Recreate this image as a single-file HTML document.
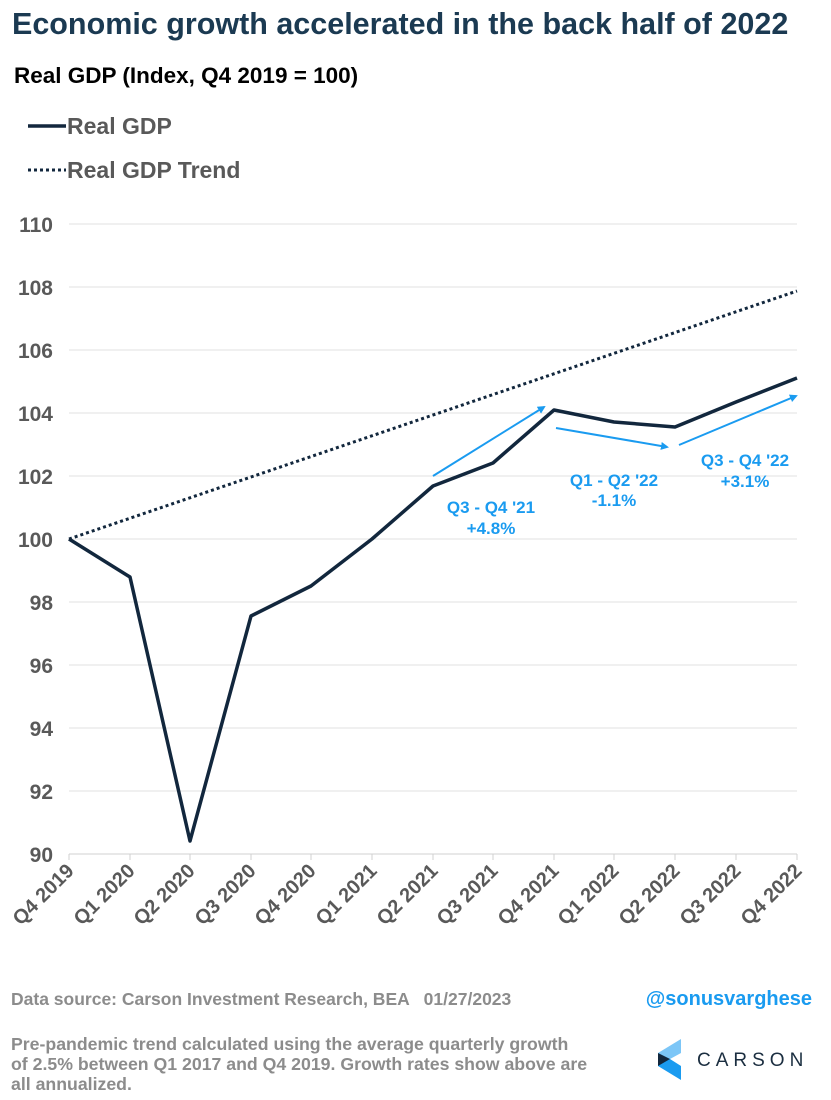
<!DOCTYPE html>
<html><head><meta charset="utf-8"><style>body{margin:0;background:#fff}svg{display:block}</style></head>
<body>
<svg width="831" height="1100" xmlns="http://www.w3.org/2000/svg" font-family="Liberation Sans, Arial, sans-serif">
<rect width="831" height="1100" fill="#fff"/>
<text x="12" y="34" font-size="30.5" font-weight="bold" fill="#1b3a52">Economic growth accelerated in the back half of 2022</text>
<text x="14" y="83" font-size="22.5" font-weight="bold" fill="#000">Real GDP (Index, Q4 2019 = 100)</text>
<line x1="28" y1="126" x2="66" y2="126" stroke="#12273d" stroke-width="3.5"/>
<text x="67" y="134" font-size="23" font-weight="bold" fill="#595959">Real GDP</text>
<line x1="28" y1="170" x2="66" y2="170" stroke="#12273d" stroke-width="3" stroke-dasharray="3,3"/>
<text x="67" y="178" font-size="23" font-weight="bold" fill="#595959">Real GDP Trend</text>
<g stroke="#e0e0e0" stroke-width="1">
<line x1="69" x2="797" y1="224" y2="224"/><line x1="69" x2="797" y1="287" y2="287"/><line x1="69" x2="797" y1="350" y2="350"/><line x1="69" x2="797" y1="413" y2="413"/><line x1="69" x2="797" y1="476" y2="476"/><line x1="69" x2="797" y1="539" y2="539"/><line x1="69" x2="797" y1="602" y2="602"/><line x1="69" x2="797" y1="665" y2="665"/><line x1="69" x2="797" y1="728" y2="728"/><line x1="69" x2="797" y1="791" y2="791"/>
</g>
<line x1="69" x2="797" y1="854" y2="854" stroke="#d0d0d0"/>
<g stroke="#d0d0d0"><path d="M69 854v6M130 854v6M190 854v6M251 854v6M311 854v6M372 854v6M433 854v6M493 854v6M554 854v6M614 854v6M675 854v6M736 854v6M797 854v6"/></g>
<g font-size="21" font-weight="bold" fill="#595959" text-anchor="end">
<text x="53" y="232">110</text><text x="53" y="295">108</text><text x="53" y="358">106</text><text x="53" y="421">104</text><text x="53" y="484">102</text><text x="53" y="547">100</text><text x="53" y="610">98</text><text x="53" y="673">96</text><text x="53" y="736">94</text><text x="53" y="799">92</text><text x="53" y="862">90</text>
</g>
<g font-size="20" font-weight="bold" fill="#595959" text-anchor="end">
<text transform="translate(75,872) rotate(-45)">Q4 2019</text>
<text transform="translate(136,872) rotate(-45)">Q1 2020</text>
<text transform="translate(196,872) rotate(-45)">Q2 2020</text>
<text transform="translate(257,872) rotate(-45)">Q3 2020</text>
<text transform="translate(317,872) rotate(-45)">Q4 2020</text>
<text transform="translate(378,872) rotate(-45)">Q1 2021</text>
<text transform="translate(439,872) rotate(-45)">Q2 2021</text>
<text transform="translate(499,872) rotate(-45)">Q3 2021</text>
<text transform="translate(560,872) rotate(-45)">Q4 2021</text>
<text transform="translate(620,872) rotate(-45)">Q1 2022</text>
<text transform="translate(681,872) rotate(-45)">Q2 2022</text>
<text transform="translate(742,872) rotate(-45)">Q3 2022</text>
<text transform="translate(803,872) rotate(-45)">Q4 2022</text>
</g>
<line x1="69" y1="539" x2="797" y2="291" stroke="#12273d" stroke-width="3" stroke-dasharray="3,3"/>
<polyline fill="none" stroke="#12273d" stroke-width="3.5" stroke-linejoin="round" points="69,539 130,577 190,841 251,616 311,586 372,539 433,486 493,463 554,410 614,422 675,427 736,402 797,378"/>
<defs><marker id="a" markerWidth="8" markerHeight="8" refX="6" refY="4" orient="auto" markerUnits="userSpaceOnUse"><path d="M0,0L8,4L0,8z" fill="#1a9bf0"/></marker></defs>
<g stroke="#1a9bf0" stroke-width="2" marker-end="url(#a)">
<line x1="433" y1="476" x2="544" y2="407"/><line x1="556" y1="428" x2="667" y2="447"/><line x1="679" y1="445" x2="796" y2="396"/>
</g>
<g font-size="17" font-weight="bold" fill="#1a9bf0" text-anchor="middle">
<text x="491" y="513">Q3 - Q4 '21</text><text x="491" y="534">+4.8%</text>
<text x="614" y="486">Q1 - Q2 '22</text><text x="614" y="506">-1.1%</text>
<text x="745" y="466">Q3 - Q4 '22</text><text x="745" y="487">+3.1%</text>
</g>
<text x="11" y="1005" font-size="17.5" font-weight="bold" fill="#8c8c8c" xml:space="preserve">Data source: Carson Investment Research, BEA   01/27/2023</text>
<text x="812" y="1005" font-size="20" font-weight="bold" fill="#1a9bf0" text-anchor="end">@sonusvarghese</text>
<g font-size="17.7" font-weight="bold" fill="#8c8c8c">
<text x="11" y="1050">Pre-pandemic trend calculated using the average quarterly growth</text>
<text x="11" y="1070">of 2.5% between Q1 2017 and Q4 2019. Growth rates show above are</text>
<text x="11" y="1090">all annualized.</text>
</g>
<polygon points="658,1053 681,1039 681,1053 670,1059" fill="#7cc6f7"/>
<polygon points="658,1053 670,1059 681,1066 681,1080 658,1066" fill="#1a9bf0"/>
<polygon points="658,1053 670,1059 658,1066" fill="#12273d"/>
<text x="697" y="1066" font-size="19" fill="#1b2e40" letter-spacing="5">CARSON</text>
</svg>
</body></html>
